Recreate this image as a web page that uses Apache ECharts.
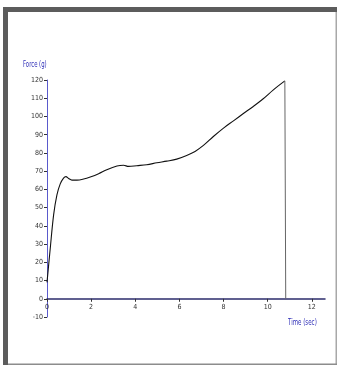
<!DOCTYPE html>
<html>
<head>
<meta charset="utf-8">
<script src="https://cdn.jsdelivr.net/npm/echarts@6/dist/echarts.min.js"></script>
<style>
  html, body { margin: 0; padding: 0; background: #fff; }
  #chart { width: 340px; height: 366px; }
</style>
</head>
<body>
<div id="chart"></div>
<script>
// Force vs. time trace of a compression test
const timeSec = [0, 0.15, 0.3, 0.45, 0.6, 0.75, 0.86, 0.98, 1.13, 1.36, 1.66, 1.96, 2.34, 2.71,
  3.17, 3.47, 3.7, 4.07, 4.52, 4.98, 5.43, 5.88, 6.33, 6.71, 7.09, 7.54, 8.0, 8.45, 8.9,
  9.35, 9.8, 10.26, 10.78, 10.82];
const forceG = [9, 28, 46, 57, 63, 66.2, 67, 66, 65.1, 65.1, 65.7, 66.8, 68.6, 70.8,
  72.8, 73.2, 72.6, 73, 73.5, 74.6, 75.5, 76.6, 78.6, 80.8, 84.1, 89, 93.6, 97.6, 101.6,
  105.5, 109.7, 114.6, 119.5, 0];
const xTicks = [0, 2, 4, 6, 8, 10, 12];

const points = timeSec.map((t, i) => [t, forceG[i]]);
const loading = points.slice(0, -1);   // force build-up
const rupture = points.slice(-2);      // sudden drop at break

const yMin = -10, yMax = 120;
const gridTop = 80, gridHeight = 237;
// lift the time axis from the grid bottom up to force = 0
const zeroOffset = -(0 - yMin) / (yMax - yMin) * gridHeight;

const narrow = "'DejaVu Sans Condensed', 'Liberation Sans Narrow', sans-serif";
const chart = echarts.init(document.getElementById('chart'), null, { renderer: 'canvas' });

chart.setOption({
  animation: false,
  backgroundColor: '#ffffff',
  grid: { left: 47, top: gridTop, width: 278, height: gridHeight, containLabel: false },
  xAxis: {
    type: 'value',
    position: 'bottom',
    offset: zeroOffset,
    min: 0,
    max: 12.6,
    interval: 2,
    axisLine: { onZero: false, lineStyle: { color: '#2c2c6c', width: 1.5 } },
    axisTick: { customValues: xTicks, length: 3, lineStyle: { color: '#333' } },
    axisLabel: { customValues: xTicks, color: '#333', fontSize: 7, fontFamily: narrow, margin: 5 },
    splitLine: { show: false }
  },
  yAxis: {
    type: 'value',
    min: yMin,
    max: yMax,
    interval: 10,
    axisLine: { show: true, onZero: false, lineStyle: { color: '#5a5acc', width: 1 } },
    axisTick: { show: true, length: 3, lineStyle: { color: '#333' } },
    axisLabel: { color: '#333', fontSize: 7, fontFamily: narrow, margin: 4 },
    splitLine: { show: false }
  },
  series: [{
    type: 'line',
    data: loading,
    smooth: 0.35,
    symbol: 'none',
    lineStyle: { color: '#111', width: 1.1 }
  }, {
    type: 'line',
    data: rupture,
    symbol: 'none',
    lineStyle: { color: '#666', width: 1 }
  }],
  graphic: [
    // window frame
    { type: 'rect', shape: { x: 3, y: 7, width: 334, height: 5 }, style: { fill: '#5c5c5c' }, silent: true },
    { type: 'rect', shape: { x: 3, y: 7, width: 5, height: 358 }, style: { fill: '#5c5c5c' }, silent: true },
    { type: 'rect', shape: { x: 335.5, y: 12, width: 1.5, height: 353 }, style: { fill: '#a8a8a8' }, silent: true },
    { type: 'rect', shape: { x: 8, y: 363.5, width: 329, height: 1.5 }, style: { fill: '#8c8c8c' }, silent: true },
    // axis titles
    { type: 'text', x: 23, y: 60, scaleX: 0.66, style: { text: 'Force (g)', fill: '#3030b8', font: "9px " + narrow } },
    { type: 'text', x: 288, y: 318, scaleX: 0.68, style: { text: 'Time (sec)', fill: '#3030b8', font: "9px " + narrow } }
  ]
});
</script>
</body>
</html>
